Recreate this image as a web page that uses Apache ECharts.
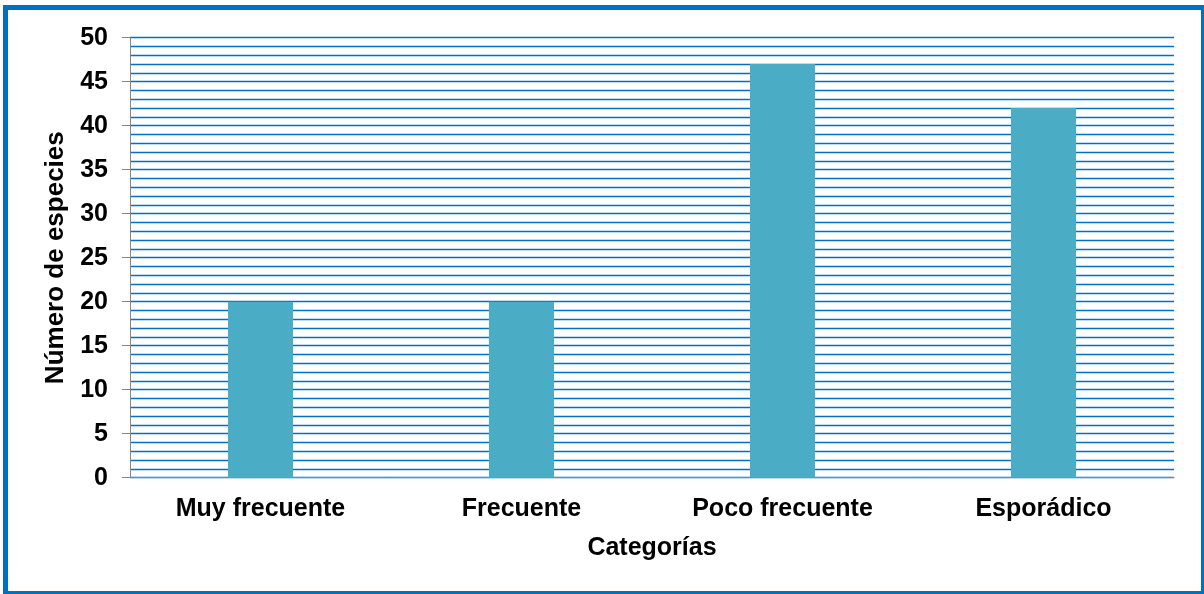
<!DOCTYPE html>
<html>
<head>
<meta charset="utf-8">
<script src="https://cdn.jsdelivr.net/npm/echarts@6/dist/echarts.min.js"></script>
<style>
  html, body { margin: 0; padding: 0; background: #ffffff; }
  #chart { width: 1204px; height: 594px; }
</style>
</head>
<body>
<div id="chart"></div>
<script>
// Frequency categories and number of species in each
const categories = ['Muy frecuente', 'Frecuente', 'Poco frecuente', 'Esporádico'];
const speciesCount = [20, 20, 47, 42];
const xTitle = 'Categorías';
const yTitle = 'Número de especies';

const chart = echarts.init(document.getElementById('chart'), null, { renderer: 'canvas' });

const fontFamily = '"Liberation Sans", Arial, sans-serif';
const gridBlue = '#0070C0';
const axisGrey = '#868686';

chart.setOption({
  animation: false,
  backgroundColor: '#ffffff',
  graphic: [{
    type: 'rect',
    silent: true,
    shape: { x: 5.5, y: 7.5, width: 1198, height: 586 },
    style: { fill: 'none', stroke: gridBlue, lineWidth: 5 }
  }],
  grid: { left: 130, right: 30, top: 37.7, bottom: 116.3, containLabel: false },
  xAxis: {
    type: 'category',
    data: categories,
    name: xTitle,
    nameLocation: 'middle',
    nameGap: 58,
    nameTextStyle: { color: '#000', fontSize: 25, fontWeight: 'bold', fontFamily },
    axisLine: { show: true, lineStyle: { color: axisGrey, width: 1 } },
    axisTick: { show: false },
    axisLabel: { color: '#000', fontSize: 25, fontWeight: 'bold', fontFamily, margin: 19 },
    splitLine: { show: false }
  },
  yAxis: {
    type: 'value',
    min: 0,
    max: 50,
    interval: 5,
    name: yTitle,
    nameLocation: 'middle',
    nameGap: 60,
    nameTextStyle: { color: '#000', fontSize: 26, fontWeight: 'bold', fontFamily },
    axisLine: { show: true, lineStyle: { color: axisGrey, width: 1 } },
    axisTick: { show: true, length: 8, lineStyle: { color: axisGrey, width: 1 } },
    axisLabel: { color: '#000', fontSize: 25, fontWeight: 'bold', fontFamily, margin: 22 },
    splitLine: { show: true, lineStyle: { color: gridBlue, width: 1.4 } },
    minorTick: { show: false, splitNumber: 5 },
    minorSplitLine: { show: true, lineStyle: { color: gridBlue, width: 1.4 } }
  },
  series: [{
    type: 'bar',
    data: speciesCount,
    barWidth: 65,
    itemStyle: { color: '#4BACC6' }
  }]
});
</script>
</body>
</html>
